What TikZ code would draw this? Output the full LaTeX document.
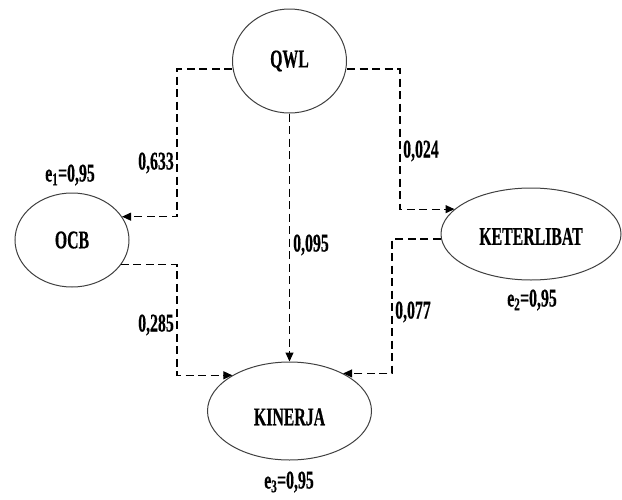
\documentclass[tikz,border=0pt]{standalone}
\usepackage{fontspec}
\setmainfont{Liberation Serif}
\newfontfamily\heavy{Liberation Serif Bold}[FakeBold=0.6]
\usetikzlibrary{arrows.meta,shapes.geometric}
\newcommand\nar[1]{\scalebox{0.62}[1]{\heavy #1}}
\begin{document}
\begin{tikzpicture}[x=1pt,y=-1pt,
  latent/.style={ellipse,draw=black!75,line width=1pt,inner sep=0pt,font=\fontsize{25.5}{28}\selectfont},
  conn/.style={draw=black,line width=1.1pt,dash pattern=on 8pt off 4.5pt,-{Triangle[length=9pt,width=8pt]}},
  lbl/.style={inner sep=0pt,font=\fontsize{25.5}{28}\selectfont}]
\useasboundingbox (0,0) rectangle (622,499);
\node[latent,minimum width=114pt,minimum height=104pt] (qwl) at (289.5,61) {\nar{QWL}};
\node[latent,minimum width=114pt,minimum height=94pt] (ocb) at (72,240) {\nar{OCB}};
\node[latent,minimum width=180pt,minimum height=92pt,label={[lbl,yshift=-2.5pt]center:\nar{KETERLIBAT}}] (ket) at (531,234) {};
\node[latent,minimum width=164pt,minimum height=98pt,label={[lbl,yshift=-6pt]center:\nar{KINERJA}}] (kin) at (289.5,411) {};
\coordinate (xl) at (177,0);
\coordinate (xr) at (400,0);
\coordinate (xm) at (392,0);
\draw[conn] ([yshift=-8pt]qwl.west) -| (xl |- ocb.25) -- (ocb.25);
\draw[conn] ([yshift=-8pt]qwl.east) -| (xr |- ket.162) -- (ket.162);
\draw[conn] (qwl.south) -- (kin.north);
\draw[conn] (ocb.-27) -| (xl |- kin.148) -- (kin.148);
\draw[conn] ([yshift=-5pt]ket.west) -| (xm |- kin.35) -- (kin.35);
\node[lbl,anchor=east] (l1) at (174,163) {\nar{0,633}};
\node[lbl,anchor=west] (l2) at (403,151) {\nar{0,024}};
\node[lbl,anchor=west] (l3) at (293,245) {\nar{0,095}};
\node[lbl,anchor=east] (l4) at (174,325) {\nar{0,285}};
\node[lbl,anchor=west] (l5) at (395,312) {\nar{0,077}};
\node[lbl] (e1) at (70,175) {\nar{e\textsubscript{1}=0,95}};
\node[lbl] (e2) at (532,300) {\nar{e\textsubscript{2}=0,95}};
\node[lbl] (e3) at (289,482) {\nar{e\textsubscript{3}=0,95}};
\end{tikzpicture}
\end{document}
